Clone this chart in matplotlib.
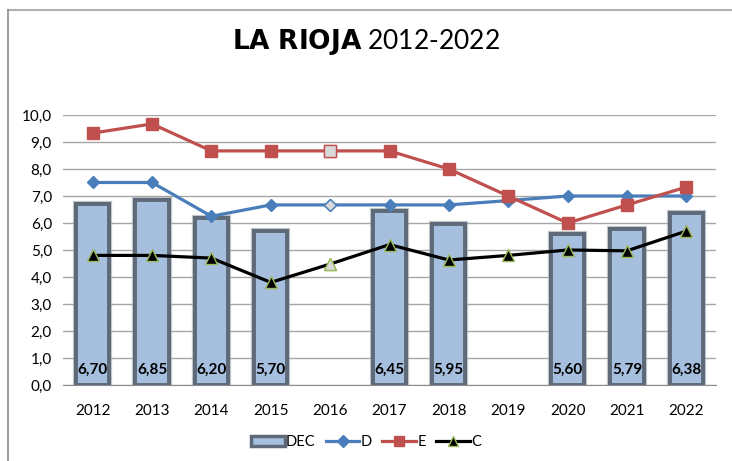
import numpy as np
import matplotlib.pyplot as plt
from matplotlib.lines import Line2D
from matplotlib.patches import Patch
import matplotlib.patheffects as pe

plt.rcParams['font.family'] = ['Lato', 'DejaVu Sans']

years = ['2012', '2013', '2014', '2015', '2016', '2017', '2018', '2019', '2020', '2021', '2022']
dec = [6.70, 6.85, 6.20, 5.70, np.nan, 6.45, 5.95, np.nan, 5.60, 5.79, 6.38]
d_vals = [7.50, 7.50, 6.25, 6.67, 6.67, 6.67, 6.67, 6.83, 7.00, 7.00, 7.00]
e_vals = [9.33, 9.67, 8.67, 8.67, 8.67, 8.67, 8.00, 7.00, 6.00, 6.67, 7.33]
c_vals = [4.80, 4.80, 4.70, 3.80, 4.48, 5.20, 4.63, 4.80, 5.00, 4.97, 5.70]
hollow_year = '2016'

bar_fill = '#A7BFDE'
bar_edge = '#5E6A78'
blue = '#4A7EBB'
red = '#C0504D'
green = '#9BBB59'

fig = plt.figure(figsize=(7.32, 4.61), dpi=100)
ax = fig.add_axes([63 / 732, 1 - 385 / 461, (716 - 63) / 732, (385 - 115) / 461])

x = np.arange(len(years))
bars = ax.bar(x, dec, width=0.56, color=bar_fill, edgecolor=bar_edge, linewidth=2.8,
              zorder=2)
for b in bars:
    b.set_path_effects([pe.withStroke(linewidth=4.5, foreground='#9AA3AD', alpha=0.6),
                        pe.Normal()])

for xi, v in zip(x, dec):
    if not np.isnan(v):
        ax.text(xi, 0.55, f'{v:.2f}'.replace('.', ','), ha='center', va='center',
                fontsize=11, fontweight='bold', color='black', zorder=5)

h = years.index(hollow_year)
series = [
    (d_vals, blue, 'D', dict(color=blue, lw=2.3, marker='D', ms=6.5, mfc=blue, mec=blue)),
    (e_vals, red, 'E', dict(color=red, lw=2.3, marker='s', ms=8.5, mfc=red, mec=red)),
    (c_vals, 'black', 'C', dict(color='black', lw=2.3, marker='^', ms=8, mfc='black', mec=green)),
]
for vals, col, name, kw in series:
    ax.plot(x, vals, zorder=3, **kw)
    # point drawn with a pale fill
    ax.plot(x[h], vals[h], ls='none', marker=kw['marker'], ms=kw['ms'], mfc='#D9D9D9',
            mec=kw['mec'] if name == 'C' else col, mew=1, zorder=4)

ax.set_ylim(0, 10)
ax.set_xlim(-0.5, len(years) - 0.5)
ax.set_yticks(np.arange(0, 10.01, 1))
ax.set_yticklabels([f'{v:.1f}'.replace('.', ',') for v in np.arange(0, 10.01, 1)])
ax.set_xticks(x)
ax.set_xticklabels(years)
ax.tick_params(axis='both', length=0, labelsize=11, colors='black')
ax.tick_params(axis='x', pad=14)
ax.tick_params(axis='y', pad=8)
ax.grid(axis='y', color='#A6A6A6', lw=1, zorder=0)
ax.set_axisbelow(True)
for s in ['top', 'right', 'left']:
    ax.spines[s].set_visible(False)
ax.spines['bottom'].set_color('#8C8C8C')

fig.text(0.5, 1 - 42 / 461, r'$\bf{LA\ RIOJA}$ 2012-2022', ha='center', va='center',
         fontsize=19)

handles = [
    Patch(facecolor=bar_fill, edgecolor=bar_edge, linewidth=2.5, label='DEC'),
    Line2D([], [], color=blue, lw=2.3, marker='D', ms=6, label='D'),
    Line2D([], [], color=red, lw=2.3, marker='s', ms=7.5, label='E'),
    Line2D([], [], color='black', lw=2.3, marker='^', ms=7, mec=green, label='C'),
]
fig.legend(handles=handles, loc='center', bbox_to_anchor=(0.5, 1 - 442 / 461), ncol=4,
           frameon=False, fontsize=10.5, handlelength=2.3, handletextpad=0.1,
           columnspacing=0.7)

# chart frame lines
fig.add_artist(Line2D([8 / 732, 1.0], [1 - 10 / 461] * 2, color='#B0B0B0', lw=1.5))
fig.add_artist(Line2D([8 / 732] * 2, [0, 1 - 10 / 461], color='#8C8C8C', lw=1.2))

fig.savefig('out.png', dpi=100, facecolor='white')
